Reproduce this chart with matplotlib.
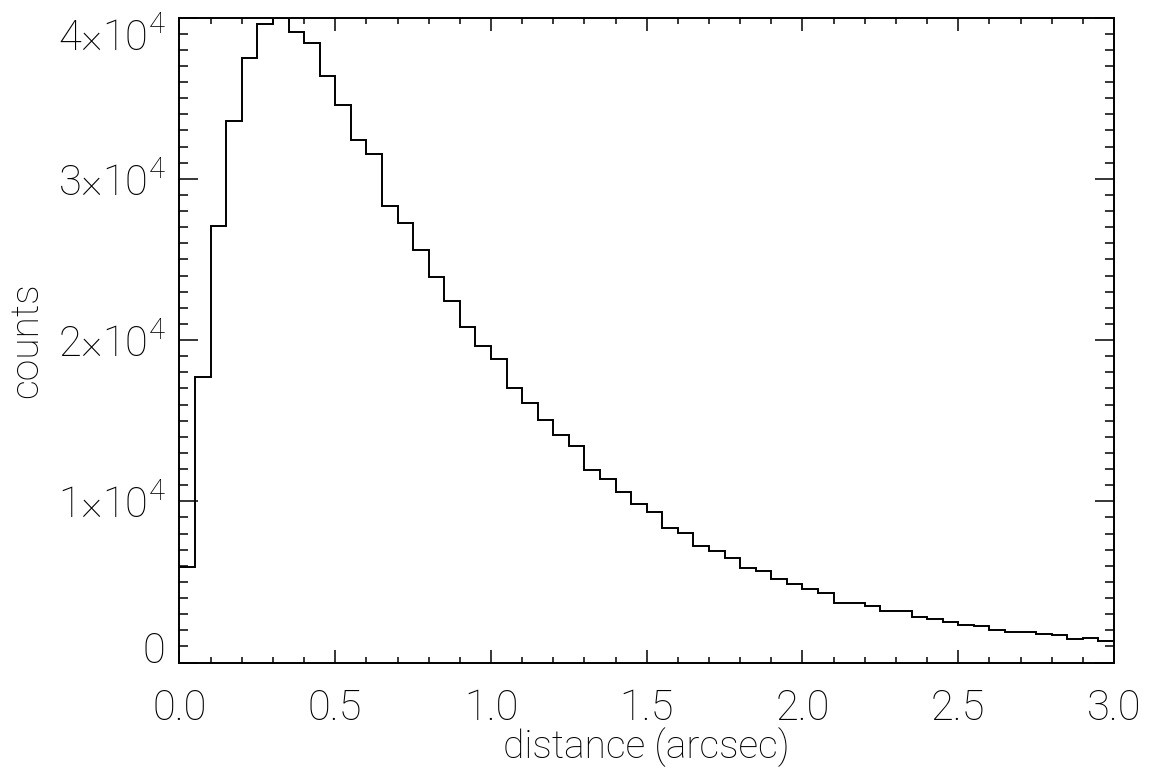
import matplotlib
matplotlib.use("Agg")
import matplotlib.pyplot as plt
import numpy as np

plt.rcParams['font.family'] = ['Roboto', 'DejaVu Sans']
plt.rcParams['font.weight'] = 'light'
plt.rcParams['axes.labelweight'] = 'light'
plt.rcParams['mathtext.fontset'] = 'custom'
plt.rcParams['mathtext.rm'] = 'Roboto:light'
plt.rcParams['mathtext.it'] = 'Roboto:light'

# histogram of distances, bin width 0.05 arcsec
bin_width = 0.05
counts = [5900, 17700, 27100, 33600, 37500, 39600, 39950, 39100, 38400, 36400,
          34600, 32400, 31550, 28300, 27270, 25600, 23900, 22400, 20800, 19600,
          18800, 17050, 16100, 15060, 14090, 13450, 11940, 11400, 10600, 9810,
          9330, 8320, 8050, 7250, 6940, 6500, 5880, 5690, 5200, 4870,
          4580, 4290, 3710, 3690, 3480, 3210, 3170, 2820, 2700, 2490,
          2310, 2240, 2020, 1910, 1870, 1750, 1680, 1480, 1500, 1330]
edges = np.arange(len(counts) + 1) * bin_width

xticks = [0.0, 0.5, 1.0, 1.5, 2.0, 2.5, 3.0]
xticklabels = ['0.0', '0.5', '1.0', '1.5', '2.0', '2.5', '3.0']
yticks = [0, 10000, 20000, 30000, 40000]
yticklabels = ['0', r'1×$10^{4}$', r'2×$10^{4}$', r'3×$10^{4}$', r'4×$10^{4}$']

fig = plt.figure(figsize=(11.52, 7.72), dpi=100)
ax = fig.add_axes([0.1558, 0.1418, 0.8112, 0.8355])

ax.stairs(counts, edges, baseline=None, color='black', linewidth=1.4)

ax.set_xlim(0, 3)
ax.set_ylim(0, 40000)
ax.set_xticks(xticks)
ax.set_xticklabels(xticklabels)
ax.set_xticks(np.arange(0, 3.01, 0.1), minor=True)
ax.set_yticks(yticks)
ax.set_yticklabels(yticklabels)
ax.set_yticks(np.arange(0, 40001, 1000), minor=True)

for s in ax.spines.values():
    s.set_linewidth(1.4)

fs = 30
ax.tick_params(axis='both', which='both', direction='in', top=True, right=True,
               width=1.1, labelsize=fs)
ax.tick_params(axis='x', which='major', length=9.3, pad=18)
ax.tick_params(axis='x', which='minor', length=4.6)
ax.tick_params(axis='y', which='major', length=13.5, pad=10)
ax.tick_params(axis='y', which='minor', length=6.7)

# keep end labels inside the axis range like IDL does
ylabs = ax.get_yticklabels()
ylabs[0].set_va('baseline')
ylabs[-1].set_va('top')

ax.set_xlabel('distance (arcsec)', fontsize=28, fontweight='light', labelpad=-1)
ax.set_ylabel('counts', fontsize=28, fontweight='light', labelpad=9)

fig.savefig('out.png', dpi=100)
